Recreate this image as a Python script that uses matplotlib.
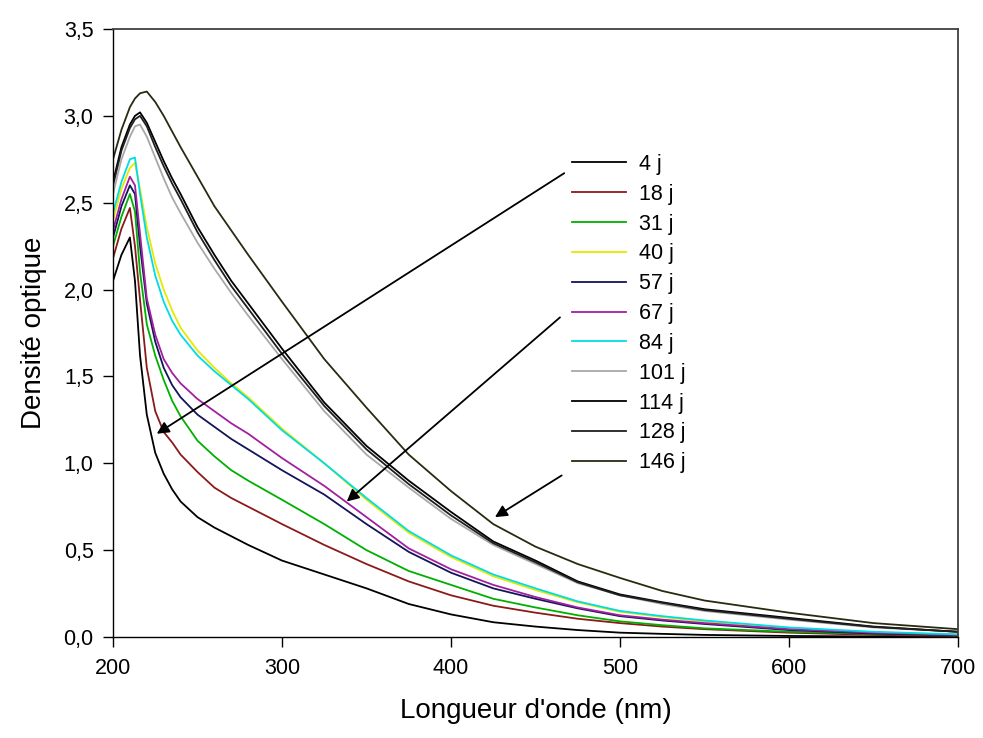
import matplotlib
matplotlib.use("Agg")
import matplotlib.pyplot as plt

plt.rcParams['font.family'] = ['Liberation Sans', 'DejaVu Sans']

wavelength = [200, 205, 210, 213, 216, 220, 225, 230, 235, 240, 250, 260, 270, 280,
              300, 325, 350, 375, 400, 425, 450, 475, 500, 525, 550, 600, 650, 700]

labels = ["4 j", "18 j", "31 j", "40 j", "57 j", "67 j", "84 j", "101 j", "114 j", "128 j", "146 j"]
colors = ["#000000", "#8b1a1a", "#00b000", "#e8e800", "#14145a", "#a020a0",
          "#00dce6", "#a8a8a8", "#000000", "#202020", "#2a2a10"]

od_4 = [2.05, 2.20, 2.30, 2.05, 1.62, 1.28, 1.06, 0.94, 0.85, 0.78, 0.69, 0.63, 0.58, 0.53,
        0.44, 0.36, 0.28, 0.19, 0.13, 0.085, 0.06, 0.04, 0.025, 0.018, 0.012, 0.006, 0.003, 0.002]
od_18 = [2.18, 2.35, 2.47, 2.25, 1.94, 1.55, 1.30, 1.18, 1.12, 1.05, 0.95, 0.86, 0.80, 0.75,
         0.65, 0.53, 0.42, 0.32, 0.24, 0.18, 0.14, 0.105, 0.08, 0.06, 0.045, 0.025, 0.012, 0.006]
od_31 = [2.25, 2.42, 2.55, 2.45, 2.10, 1.80, 1.62, 1.48, 1.36, 1.27, 1.13, 1.04, 0.96, 0.90,
         0.79, 0.65, 0.50, 0.38, 0.30, 0.22, 0.17, 0.125, 0.09, 0.068, 0.05, 0.03, 0.018, 0.01]
od_40 = [2.40, 2.58, 2.70, 2.73, 2.58, 2.36, 2.15, 2.00, 1.88, 1.78, 1.65, 1.55, 1.46, 1.38,
         1.20, 1.00, 0.79, 0.60, 0.46, 0.35, 0.27, 0.20, 0.145, 0.115, 0.09, 0.05, 0.028, 0.014]
od_57 = [2.30, 2.48, 2.60, 2.55, 2.25, 1.92, 1.70, 1.55, 1.45, 1.38, 1.28, 1.21, 1.14, 1.08,
         0.96, 0.82, 0.65, 0.49, 0.37, 0.28, 0.22, 0.165, 0.12, 0.095, 0.075, 0.04, 0.02, 0.01]
od_67 = [2.34, 2.52, 2.65, 2.60, 2.32, 1.95, 1.74, 1.60, 1.52, 1.46, 1.37, 1.30, 1.23, 1.17,
         1.03, 0.87, 0.69, 0.51, 0.39, 0.30, 0.23, 0.17, 0.125, 0.10, 0.08, 0.045, 0.025, 0.012]
od_84 = [2.44, 2.62, 2.75, 2.76, 2.55, 2.30, 2.08, 1.93, 1.82, 1.74, 1.62, 1.53, 1.45, 1.37,
         1.19, 1.00, 0.80, 0.61, 0.47, 0.36, 0.28, 0.205, 0.15, 0.12, 0.095, 0.055, 0.03, 0.015]
od_101 = [2.55, 2.75, 2.88, 2.94, 2.95, 2.88, 2.76, 2.64, 2.53, 2.44, 2.27, 2.12, 1.98, 1.85,
          1.60, 1.30, 1.05, 0.86, 0.68, 0.53, 0.42, 0.31, 0.24, 0.19, 0.15, 0.10, 0.055, 0.03]
od_114 = [2.62, 2.82, 2.95, 3.00, 3.02, 2.96, 2.85, 2.74, 2.64, 2.55, 2.36, 2.20, 2.05, 1.92,
          1.66, 1.35, 1.10, 0.90, 0.72, 0.55, 0.44, 0.32, 0.245, 0.20, 0.16, 0.11, 0.06, 0.03]
od_128 = [2.60, 2.80, 2.93, 2.98, 3.00, 2.94, 2.82, 2.71, 2.61, 2.52, 2.33, 2.17, 2.02, 1.89,
          1.63, 1.33, 1.08, 0.88, 0.70, 0.54, 0.43, 0.315, 0.24, 0.197, 0.155, 0.105, 0.058, 0.03]
od_146 = [2.75, 2.92, 3.05, 3.10, 3.13, 3.14, 3.08, 3.00, 2.91, 2.82, 2.65, 2.48, 2.34, 2.20,
          1.93, 1.60, 1.32, 1.05, 0.84, 0.65, 0.52, 0.42, 0.34, 0.265, 0.21, 0.14, 0.08, 0.045]

series = [od_4, od_18, od_31, od_40, od_57, od_67, od_84, od_101, od_114, od_128, od_146]

x_ticks = [200, 300, 400, 500, 600, 700]
y_ticks = [0.0, 0.5, 1.0, 1.5, 2.0, 2.5, 3.0, 3.5]
y_tick_labels = ["0,0", "0,5", "1,0", "1,5", "2,0", "2,5", "3,0", "3,5"]

# arrows: (start x, start y) -> (tip x, tip y) in data units
arrow_starts = [(467.0, 2.67), (464.5, 1.84), (465.5, 0.93)]
arrow_tips = [(225.9, 1.17), (338.3, 0.78), (426.0, 0.69)]

fig = plt.figure(figsize=(9.83, 7.38), dpi=100)
ax = fig.add_axes([113/983, 1 - 637/738, (958 - 113)/983, (637 - 29)/738])

for vals, col, lab in zip(series, colors, labels):
    ax.plot(wavelength, vals, color=col, lw=1.3, label=lab)

ax.set_xlim(200, 700)
ax.set_ylim(0, 3.5)
ax.set_xticks(x_ticks)
ax.set_xticklabels([str(v) for v in x_ticks])
ax.set_yticks(y_ticks)
ax.set_yticklabels(y_tick_labels)
ax.tick_params(direction='out', length=7, width=1, labelsize=15.5, pad=7,
               top=False, right=False)
ax.tick_params(axis='x', pad=8)
for s in ['left', 'bottom']:
    ax.spines[s].set_linewidth(1.0)
    ax.spines[s].set_color('black')
for s in ['top', 'right']:
    ax.spines[s].set_linewidth(1.3)
    ax.spines[s].set_color('#404040')

ax.set_xlabel("Longueur d'onde (nm)", fontsize=20, labelpad=14)
ax.set_ylabel("Densité optique", fontsize=20, labelpad=12)

for (sx, sy), (tx, ty) in zip(arrow_starts, arrow_tips):
    ax.annotate("", xy=(tx, ty), xytext=(sx, sy),
                arrowprops=dict(arrowstyle='-|>', color='black', lw=1.3,
                                mutation_scale=18, shrinkA=0, shrinkB=0))

leg = ax.legend(loc='upper left', bbox_to_anchor=(572/983, 1 - 154/738),
                bbox_transform=fig.transFigure, frameon=False, fontsize=15.5,
                handlelength=2.5, handletextpad=0.6, labelspacing=0.41,
                borderpad=0, borderaxespad=0)

fig.savefig("out.png", dpi=100)
